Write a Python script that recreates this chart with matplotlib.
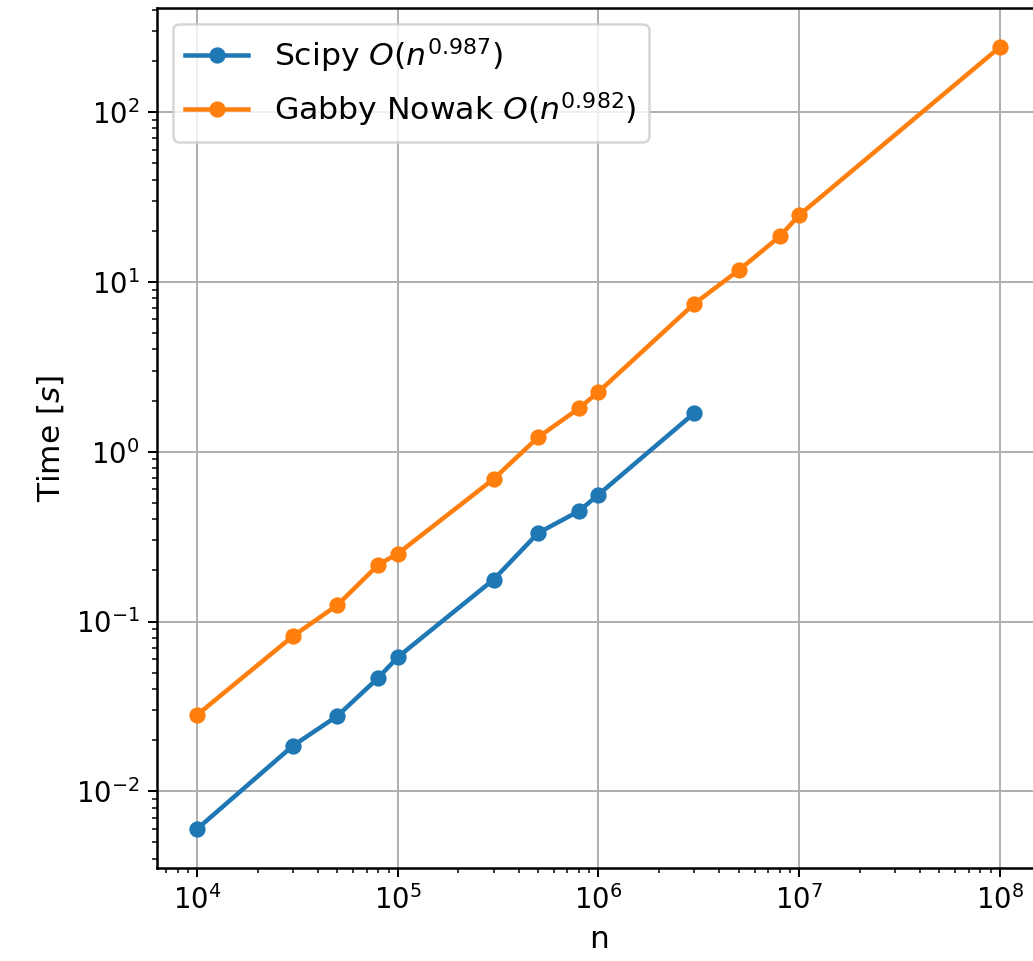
import matplotlib
matplotlib.use("Agg")
from matplotlib import pyplot as plt

# problem sizes
n_scipy = [1e4, 3e4, 5e4, 8e4, 1e5, 3e5, 5e5, 8e5, 1e6, 3e6]
n_gabby = [1e4, 3e4, 5e4, 8e4, 1e5, 3e5, 5e5, 8e5, 1e6, 3e6, 5e6, 8e6, 1e7, 1e8]

# timings in seconds
t_scipy = [0.00601, 0.01854, 0.0278, 0.0467, 0.0617, 0.1765, 0.332, 0.447, 0.559, 1.687]
t_gabby = [0.0282, 0.082, 0.125, 0.216, 0.251, 0.69, 1.215, 1.80, 2.25, 7.43, 11.7, 18.5, 24.7, 241]

labels = [r"Scipy $O(n^{0.987})$", r"Gabby Nowak $O(n^{0.982})$"]

fig = plt.figure(figsize=(1033 / 180, 961 / 180), dpi=180)
# axes runs slightly past the right edge, like the cropped original
ax = fig.add_axes([157 / 1033, 1 - 868 / 961, (1040 - 157) / 1033, (868 - 8) / 961])

ax.plot(n_scipy, t_scipy, marker="o", markersize=5.5, linewidth=1.8, label=labels[0])
ax.plot(n_gabby, t_gabby, marker="o", markersize=5.5, linewidth=1.8, label=labels[1])

ax.set_xscale("log")
ax.set_yscale("log")
ax.grid(True)
for s in ax.spines.values():
    s.set_linewidth(1.0)

ax.set_xlabel("n", fontsize=12.5)
ax.set_ylabel("Time [$s$]", fontsize=12.5)
ax.tick_params(labelsize=11)
ax.legend(loc="upper left", fontsize=12.6)

fig.savefig("out.png", dpi=180)
